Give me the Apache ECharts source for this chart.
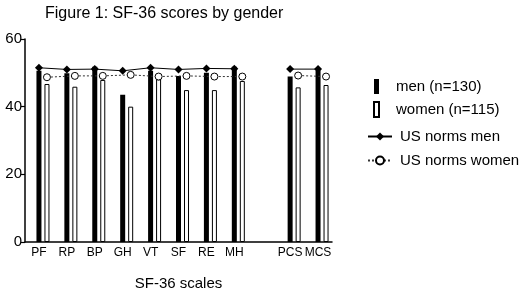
<!DOCTYPE html>
<html lang="en" style="height: 100%">
<head>
  <meta charset="utf-8">
  <script type="text/javascript" src="https://cdn.jsdelivr.net/npm/echarts@6/dist/echarts.min.js"></script>
</head>
<body style="height: 100%; margin: 0; background: #fff">
  <div id="main" style="height: 291px; width: 520px"></div>

  <script type="text/javascript">
    // scales, blank slot between MH and PCS
    var scales = ['PF', 'RP', 'BP', 'GH', 'VT', 'SF', 'RE', 'MH', '', 'PCS', 'MCS'];
    var men = [50.6, 49.9, 51.8, 43.5, 50.6, 49.1, 50.0, 51.8, null, 48.9, 50.8];
    var women = [46.7, 45.9, 47.9, 40.0, 48.1, 44.9, 44.9, 47.6, null, 45.7, 46.4];
    var normsMen = [51.5, 51.0, 51.1, 50.6, 51.5, 51.0, 51.3, 51.2, null, 51.1, 51.1];
    var normsWomen = [48.7, 49.1, 49.1, 49.4, 48.9, 49.1, 48.9, 48.9, null, 49.2, 48.9];
    var yTicks = [0, 20, 40, 60];

    var chart = echarts.init(document.getElementById('main'));
    var font = 'Liberation Sans, Arial, sans-serif';

    var option = {
      animation: false,
      title: {
        text: 'Figure 1: SF-36 scores by gender',
        left: 40, top: 1,
        textStyle: { fontFamily: font, fontSize: 16, fontWeight: 'normal', color: '#000' }
      },
      legend: [
        {
          data: ['men (n=130)', 'women (n=115)'],
          orient: 'vertical', left: 368, top: 74,
          icon: 'rect', itemWidth: 5, itemHeight: 15, itemGap: 7,
          textStyle: { fontFamily: font, fontSize: 15, color: '#000', padding: [0, 0, 0, 12] }
        },
        {
          data: ['US norms men', 'US norms women'],
          orient: 'vertical', left: 362, top: 124,
          itemWidth: 24, itemHeight: 10, itemGap: 9,
          textStyle: { fontFamily: font, fontSize: 15, color: '#000', padding: [0, 0, 0, 3] }
        }
      ],
      grid: [
        { left: 25, right: 188, top: 39, bottom: 49, outerBoundsMode: 'none' },
        { left: 33, right: 180, top: 39, bottom: 49, outerBoundsMode: 'none' }
      ],
      xAxis: [
        {
          type: 'category', data: scales, gridIndex: 0,
          name: 'SF-36 scales', nameLocation: 'middle', nameGap: 34,
          nameTextStyle: { fontFamily: font, fontSize: 15, color: '#000' },
          axisLine: { lineStyle: { color: '#000', width: 1.5 } },
          axisTick: {
            alignWithLabel: true, length: 4,
            lineStyle: { color: '#000', width: 1.2 },
            interval: function (i, v) { return v !== ''; }
          },
          axisLabel: { fontFamily: font, fontSize: 12, color: '#000', margin: 5, interval: 0 }
        },
        {
          type: 'category', data: scales, gridIndex: 1, show: false
        }
      ],
      yAxis: [
        {
          type: 'value', min: yTicks[0], max: yTicks[yTicks.length - 1], interval: 20, gridIndex: 0,
          splitLine: { show: false },
          axisLine: { show: true, lineStyle: { color: '#000', width: 1.5 } },
          axisTick: { show: true, length: 4, lineStyle: { color: '#000', width: 1.2 } },
          axisLabel: { fontFamily: font, fontSize: 15, color: '#000', margin: 3 }
        },
        {
          type: 'value', min: 0, max: 60, gridIndex: 1, show: false
        }
      ],
      series: [
        {
          // empty slot so men bar sits on the tick
          name: 'spacer', type: 'bar', data: scales.map(function () { return null; }),
          barWidth: 5, barGap: '60%', silent: true
        },
        {
          name: 'men (n=130)', type: 'bar', data: men,
          barWidth: 5, barGap: '60%',
          itemStyle: { color: '#000' }
        },
        {
          name: 'women (n=115)', type: 'bar', data: women,
          barWidth: 5, barGap: '60%',
          itemStyle: { color: '#fff', borderColor: '#000', borderWidth: 1 }
        },
        {
          name: 'US norms men', type: 'line', data: normsMen,
          symbol: 'diamond', symbolSize: 8,
          itemStyle: { color: '#000' },
          lineStyle: { color: '#000', width: 1 },
          connectNulls: false, z: 5
        },
        {
          name: 'US norms women', type: 'line', data: normsWomen,
          xAxisIndex: 1, yAxisIndex: 1,
          symbol: 'circle', symbolSize: 7,
          itemStyle: { color: '#fff', borderColor: '#000', borderWidth: 1 },
          lineStyle: { color: '#333', width: 1, type: [2, 2] },
          connectNulls: false, z: 5
        }
      ]
    };

    chart.setOption(option);
  </script>
</body>
</html>
